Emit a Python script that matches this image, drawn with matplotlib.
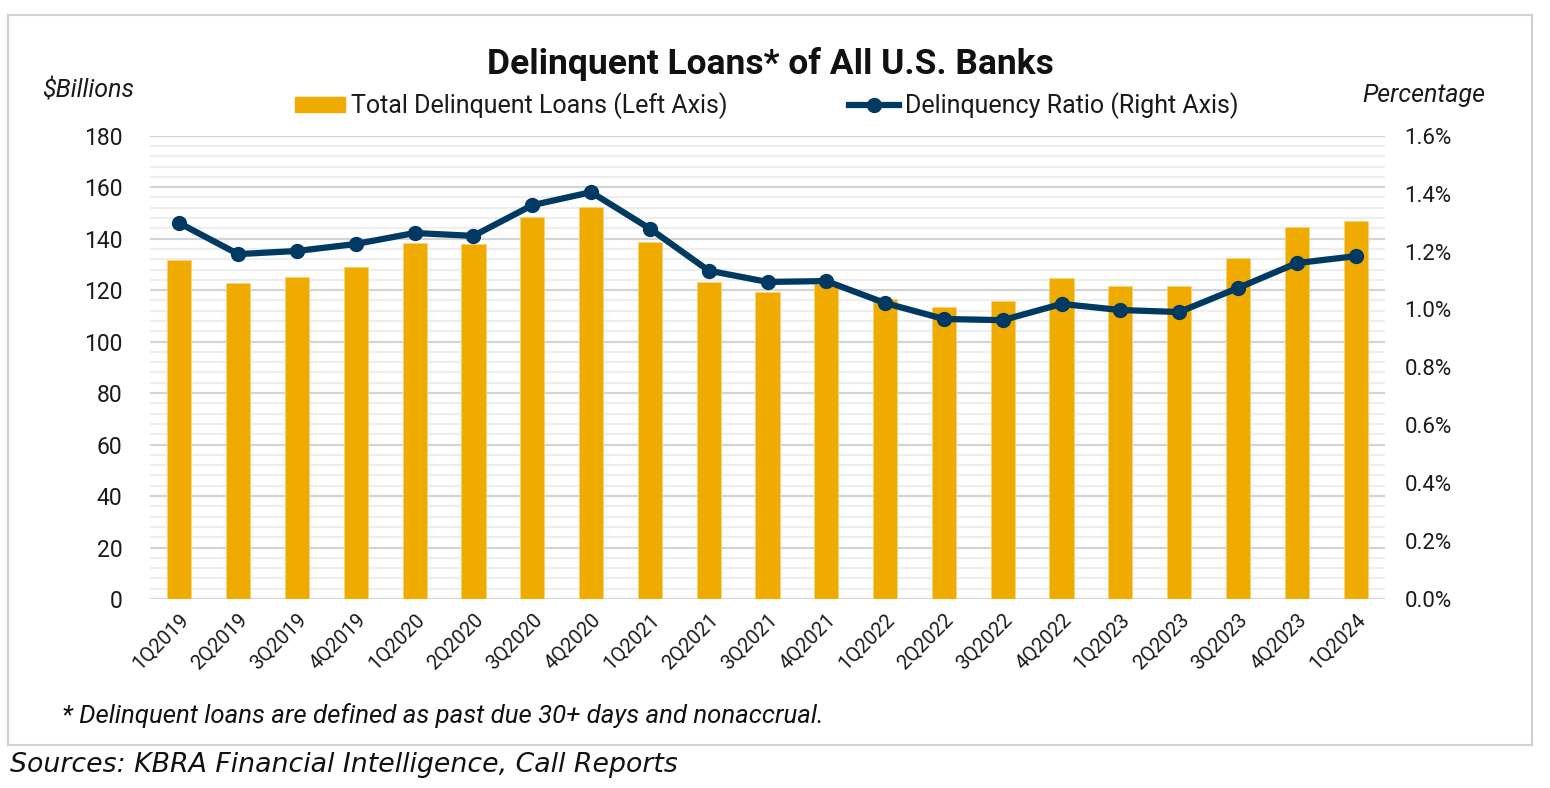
import numpy as np
import matplotlib
matplotlib.use("Agg")
import matplotlib.pyplot as plt
from matplotlib.patches import Rectangle
from matplotlib.lines import Line2D
from matplotlib.ticker import MultipleLocator, FuncFormatter

plt.rcParams['font.family'] = ['Roboto', 'DejaVu Sans']

# Data
quarters = ["1Q2019", "2Q2019", "3Q2019", "4Q2019", "1Q2020", "2Q2020", "3Q2020",
            "4Q2020", "1Q2021", "2Q2021", "3Q2021", "4Q2021", "1Q2022", "2Q2022",
            "3Q2022", "4Q2022", "1Q2023", "2Q2023", "3Q2023", "4Q2023", "1Q2024"]
delinquent_loans = [131.7, 122.8, 125.1, 129.0, 138.3, 137.9, 148.3,
                    152.4, 138.8, 123.2, 119.4, 122.4, 116.6, 113.4,
                    115.8, 124.7, 121.6, 121.6, 132.5, 144.5, 146.9]
delinquency_ratio = [1.298, 1.191, 1.202, 1.226, 1.264, 1.254, 1.360,
                     1.405, 1.279, 1.134, 1.095, 1.098, 1.022, 0.967,
                     0.963, 1.019, 0.998, 0.991, 1.074, 1.160, 1.184]

bar_color = "#F0AB00"
line_color = "#003A63"
text_color = "#1a1a1a"

fig = plt.figure(figsize=(15.5, 7.88), dpi=100)
ax = fig.add_axes([150 / 1550, 1 - 599 / 788, 1235 / 1550, (599 - 135.7) / 788])

x = np.arange(len(quarters))
ax.bar(x, delinquent_loans, width=0.41, color=bar_color, edgecolor="#F7D27A",
       linewidth=0.6, zorder=3)
ax.set_xlim(-0.5, len(quarters) - 0.5)
ax.set_ylim(0, 180)
ax.yaxis.set_major_locator(MultipleLocator(20))
ax.yaxis.set_minor_locator(MultipleLocator(4))
ax.grid(which="major", axis="y", color="#D4D4D4", linewidth=1.6, zorder=0)
ax.grid(which="minor", axis="y", color="#EEEEEE", linewidth=1.6, zorder=0)
ax.set_xticks(x)
ax.set_xticklabels(quarters, rotation=45, ha="right", rotation_mode="anchor",
                   fontsize=14.5, color=text_color)
ax.tick_params(axis="x", length=0, pad=8)
ax.tick_params(axis="y", which="both", length=0, labelsize=16.5, pad=20,
               labelcolor=text_color)
for s in ax.spines.values():
    s.set_visible(False)

ax2 = ax.twinx()
ax2.plot(x, delinquency_ratio, color=line_color, linewidth=4.5, marker="o",
         markersize=10, zorder=4)
ax2.set_ylim(0, 1.6)
ax2.yaxis.set_major_locator(MultipleLocator(0.2))
ax2.yaxis.set_major_formatter(FuncFormatter(lambda v, p: f"{v:.1f}%"))
ax2.tick_params(axis="y", length=0, labelsize=16, pad=14, labelcolor=text_color)
for s in ax2.spines.values():
    s.set_visible(False)

# Title and axis captions
fig.text(770 / 1550, 1 - 64 / 788, "Delinquent Loans* of All U.S. Banks",
         ha="center", va="center", fontsize=25.5, fontweight="bold", color="#111111")
fig.text(88 / 1550, 1 - 91 / 788, "$Billions", ha="center", va="center",
         fontsize=18, style="italic", color=text_color)
fig.text(1424 / 1550, 1 - 95 / 788, "Percentage", ha="center", va="center",
         fontsize=18, style="italic", color=text_color)

# Legend
handles = [Rectangle((0, 0), 1, 1, color=bar_color),
           Line2D([0], [0], color=line_color, linewidth=4.5, marker="o", markersize=10)]
labels = ["Total Delinquent Loans (Left Axis)", "Delinquency Ratio (Right Axis)"]
fig.legend(handles, labels, loc="center", bbox_to_anchor=(767 / 1550, 1 - 106 / 788),
           ncol=2, frameon=False, fontsize=18, handlelength=2.0, handleheight=0.5,
           handletextpad=0.25, columnspacing=4.85, labelcolor=text_color)

# Footnote and sources
fig.text(62 / 1550, 1 - 716 / 788,
         "* Delinquent loans are defined as past due 30+ days and nonaccrual.",
         ha="left", va="center", fontsize=18.5, style="italic", color="#111111")
fig.text(10 / 1550, 1 - 765 / 788, "Sources: KBRA Financial Intelligence, Call Reports",
         ha="left", va="center", fontsize=19.3, style="italic", color="#111111",
         family="DejaVu Sans")

# Outer border
fig.patches.append(Rectangle((8 / 1550, 1 - 745 / 788), 1524 / 1550, 730 / 788,
                             transform=fig.transFigure, fill=False,
                             edgecolor="#D0D0D0", linewidth=1.5))

fig.savefig("out.png", dpi=100)
